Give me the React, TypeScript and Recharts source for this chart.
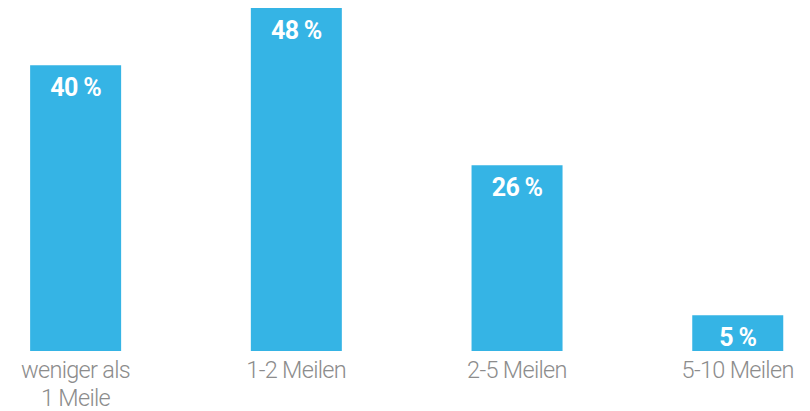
import React from "react";
import { BarChart, Bar, XAxis, YAxis, LabelList } from "recharts";

const categories = ["weniger als\n1 Meile", "1-2 Meilen", "2-5 Meilen", "5-10 Meilen"];
const values = [40, 48, 26, 5];
const data = categories.map((c, i) => ({ idx: i, name: c, value: values[i] }));

const BLUE = "#35b4e5";
const GRAY = "#8c8c8c";

const Tick = (props: any) => {
  const { x, y, payload } = props;
  const lines = categories[payload.value].split("\n");
  return (
    <g transform={`translate(${x},${y})`}>
      {lines.map((l, i) => (
        <text key={i} x={0} y={19 + i * 28} textAnchor="middle" fill={GRAY}
          fontFamily="Roboto" fontWeight={300} fontSize={23.5} letterSpacing={-0.7}>
          {l}
        </text>
      ))}
    </g>
  );
};

const Lbl = (props: any) => {
  const { x, y, width, value } = props;
  return (
    <text x={x + width / 2} y={y + 30.5} textAnchor="middle" fill="#fff"
      fontFamily="Roboto" fontWeight={700} fontSize={25} letterSpacing={-0.7}>
      {value} %
    </text>
  );
};

export default function App() {
  return (
    <div style={{ position: "absolute", left: 0, top: 0 }}>
      <BarChart width={810} height={411} data={data} margin={{ top: 8, right: 0, bottom: 0, left: 0 }}>
        <XAxis dataKey="idx" type="number" domain={[-0.342, 3.328]} ticks={[0, 1, 2, 3]}
          allowDataOverflow axisLine={false} tickLine={false} tick={<Tick />} height={60} interval={0} />
        <YAxis hide domain={[0, 48]} />
        <Bar dataKey="value" fill={BLUE} barSize={91} isAnimationActive={false}>
          <LabelList dataKey="value" content={<Lbl />} />
        </Bar>
      </BarChart>
    </div>
  );
}
